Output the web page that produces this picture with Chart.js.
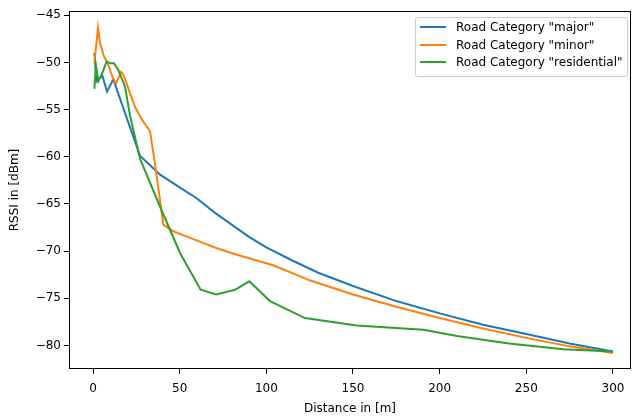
<!DOCTYPE html>
<html>
<head>
<meta charset="utf-8">
<script src="https://cdn.jsdelivr.net/npm/chart.js@4"></script>
<style>
  html, body { margin: 0; padding: 0; background: #fff; }
  #wrap { position: relative; width: 634px; height: 418px; }
  #legend {
    position: absolute; left: 415px; top: 17px; width: 211px; height: 58px;
    border: 1px solid #cccccc; border-radius: 3px; background: rgba(255,255,255,0.8);
    font-family: "DejaVu Sans", sans-serif; font-size: 12px; color: #000;
  }
  .row { position: absolute; left: 0; right: 0; height: 16px; }
  .swatch { position: absolute; left: 4px; top: 7px; width: 26px; height: 2px; }
  .lab { position: absolute; left: 40px; top: 0; line-height: 16px; white-space: nowrap; }
</style>
</head>
<body>
<div id="wrap">
  <canvas id="myChart" width="634" height="418"></canvas>
  <div id="legend"></div>
</div>
<script>
// series names + colors (matplotlib tab10)
const seriesNames = ['Road Category "major"', 'Road Category "minor"', 'Road Category "residential"'];
const seriesColors = ['#1f77b4', '#ff7f0e', '#2ca02c'];

// distance [m] / rssi [dBm]
const majorDist = [0.8, 2.1, 5.4, 8.1, 11.7, 27.1, 38.7, 50, 59.8, 70, 80, 90, 100, 115, 130, 150, 175, 200, 225, 250, 275, 300];
const majorRssi = [-49.0, -52.0, -51.4, -53.1, -51.8, -59.9, -61.9, -63.25, -64.4, -65.9, -67.2, -68.5, -69.6, -71.0, -72.3, -73.7, -75.3, -76.6, -77.8, -78.8, -79.8, -80.65];

const minorDist = [0.8, 2.9, 4, 6, 8.8, 11.7, 13.3, 16.2, 17.5, 24.2, 28, 32.9, 35.4, 40.6, 46.3, 56, 71.4, 85, 104, 125, 150, 175, 200, 225, 250, 275, 300];
const minorRssi = [-50.1, -46.3, -47.9, -49.2, -50.25, -51.8, -52.2, -51.0, -51.3, -54.7, -56.0, -57.3, -60.3, -67.2, -67.9, -68.6, -69.7, -70.5, -71.5, -73.1, -74.6, -75.9, -77.1, -78.2, -79.2, -80.1, -80.8];

const residentialDist = [0.8, 1.7, 3.1, 5, 7.9, 9.8, 12.1, 14.6, 18.5, 21.3, 27.1, 38.7, 50.2, 62.1, 71, 81.9, 90.2, 102.1, 122.3, 152.1, 190.6, 210, 240, 271.3, 300];
const residentialRssi = [-52.8, -50.3, -52.0, -51.3, -49.9, -50.1, -50.1, -50.8, -52.6, -55.6, -60.2, -65.3, -70.2, -74.1, -74.6, -74.1, -73.2, -75.3, -77.1, -77.9, -78.35, -79.0, -79.8, -80.4, -80.65];

const xTicks = [0, 50, 100, 150, 200, 250, 300];
const yTicks = [-80, -75, -70, -65, -60, -55, -50, -45];

const font = { family: 'DejaVu Sans', size: 12 };

function toPoints(xs, ys) {
    return xs.map((x, i) => ({ x: x, y: ys[i] }));
}

// frame around the plot area, like matplotlib spines
const framePlugin = {
    id: 'frame',
    afterDatasetsDraw(chart) {
        const a = chart.chartArea;
        const ctx = chart.ctx;
        ctx.save();
        ctx.strokeStyle = '#000';
        ctx.lineWidth = 1;
        ctx.strokeRect(Math.round(a.left) + 0.5, Math.round(a.top) + 0.5,
            Math.round(a.right - a.left) - 1, Math.round(a.bottom - a.top) - 1);
        ctx.restore();
    }
};

const allSeries = [
    toPoints(majorDist, majorRssi),
    toPoints(minorDist, minorRssi),
    toPoints(residentialDist, residentialRssi)
];

const ctx = document.getElementById('myChart').getContext('2d');
const myChartInstance = new Chart(ctx, {
    type: 'line',
    data: {
        datasets: allSeries.map((pts, i) => ({
            label: seriesNames[i],
            data: pts,
            borderColor: seriesColors[i],
            backgroundColor: seriesColors[i],
            borderWidth: 2,
            pointRadius: 0,
            tension: 0,
            fill: false,
            order: 3 - i // green on top like the original
        }))
    },
    options: {
        responsive: false,
        animation: false,
        layout: { padding: { left: 0, top: 11, right: 3, bottom: 0 } },
        plugins: { legend: { display: false }, tooltip: { enabled: false } },
        scales: {
            x: {
                type: 'linear',
                min: -13.85,
                max: 310.4,
                afterBuildTicks: s => { s.ticks = xTicks.map(v => ({ value: v })); },
                afterFit: s => { s.height = 49; },
                border: { display: false },
                grid: { drawOnChartArea: false, drawTicks: true, tickLength: 5, tickColor: '#000', tickWidth: 1 },
                ticks: { font: font, color: '#000', padding: 8, maxRotation: 0 },
                title: { display: true, text: 'Distance in [m]', font: font, color: '#000', padding: { top: 0, bottom: 2 } }
            },
            y: {
                type: 'linear',
                min: -82.5,
                max: -44.55,
                afterBuildTicks: s => { s.ticks = yTicks.map(v => ({ value: v })); },
                afterFit: s => { s.width = 69; },
                border: { display: false },
                grid: { drawOnChartArea: false, drawTicks: true, tickLength: 5, tickColor: '#000', tickWidth: 1 },
                ticks: {
                    font: font, color: '#000', padding: 3,
                    callback: v => String(v).replace('-', '\u2212')
                },
                title: { display: true, text: 'RSSI in [dBm]', font: font, color: '#000', padding: { top: 8, bottom: 0 } }
            }
        }
    },
    plugins: [framePlugin]
});

// html legend built from the same arrays
const legend = document.getElementById('legend');
seriesNames.forEach((name, i) => {
    const row = document.createElement('div');
    row.className = 'row';
    row.style.top = (1 + i * 17.7) + 'px';
    const sw = document.createElement('div');
    sw.className = 'swatch';
    sw.style.background = seriesColors[i];
    const lab = document.createElement('div');
    lab.className = 'lab';
    lab.textContent = name;
    row.appendChild(sw);
    row.appendChild(lab);
    legend.appendChild(row);
});
</script>
</body>
</html>
